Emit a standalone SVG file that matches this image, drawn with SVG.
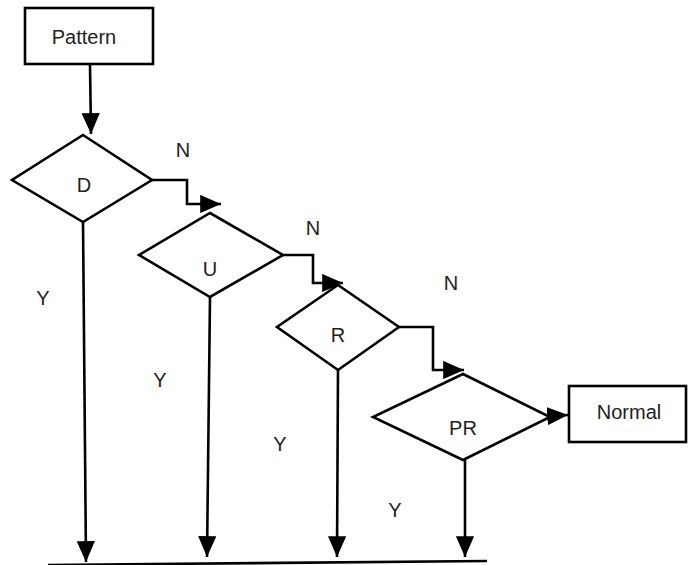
<svg xmlns="http://www.w3.org/2000/svg" width="688" height="565" viewBox="0 0 688 565">
<style>
.s{fill:none;stroke:#000;stroke-width:2.6;stroke-linejoin:miter}
.b{fill:#fff;stroke:#000;stroke-width:2.6}
.t{font-family:"Liberation Sans",Arial,sans-serif;font-size:20px;fill:#222;text-anchor:middle;dominant-baseline:central}
</style>
<defs>
<marker id="ah" markerWidth="8" markerHeight="7" refX="8" refY="3.5" orient="auto" markerUnits="strokeWidth">
<path d="M0,0 L8,3.5 L0,7 Z" fill="#000"/>
</marker>
</defs>
<g id="connectors">
<path class="s" d="M90,65 L91,134" marker-end="url(#ah)"/>
<path class="s" d="M152,180 L187,180 L187,204 L221,204" marker-end="url(#ah)"/>
<path class="s" d="M283,255 L313,255 L313,283 L343,283" marker-end="url(#ah)"/>
<path class="s" d="M399,327 L433,327 L433,370 L464,370" marker-end="url(#ah)"/>
<path class="s" d="M550,416 L568,415" marker-end="url(#ah)"/>
<path class="s" d="M83,222 L86,562" marker-end="url(#ah)"/>
<path class="s" d="M210,297 L207,557" marker-end="url(#ah)"/>
<path class="s" d="M338,370 L337,557" marker-end="url(#ah)"/>
<path class="s" d="M465,460 L465,557" marker-end="url(#ah)"/>
<path class="s" d="M48,565 L487,561"/>
<text class="t" x="183" y="150">N</text>
<text class="t" x="313" y="228">N</text>
<text class="t" x="451" y="283">N</text>
<text class="t" x="43" y="298">Y</text>
<text class="t" x="160" y="380">Y</text>
<text class="t" x="280" y="444">Y</text>
<text class="t" x="395" y="510">Y</text>
</g>
<g id="pattern">
<rect class="b" x="25" y="8" width="128" height="56"/>
<text class="t" x="84" y="37">Pattern</text>
</g>
<g id="D">
<path class="b" d="M83,135 L152,180 L83,222 L12,180 Z"/>
<text class="t" x="84" y="185">D</text>
</g>
<g id="U">
<path class="b" d="M210,213 L283,255 L210,297 L139,255 Z"/>
<text class="t" x="210" y="269">U</text>
</g>
<g id="R">
<path class="b" d="M338,285 L399,327 L338,370 L277,327 Z"/>
<text class="t" x="338" y="335">R</text>
</g>
<g id="PR">
<path class="b" d="M463,374 L550,417 L463,460 L373,417 Z"/>
<text class="t" x="463" y="428">PR</text>
</g>
<g id="normal">
<rect class="b" x="569" y="386" width="117" height="56"/>
<text class="t" x="629" y="412">Normal</text>
</g>
</svg>
